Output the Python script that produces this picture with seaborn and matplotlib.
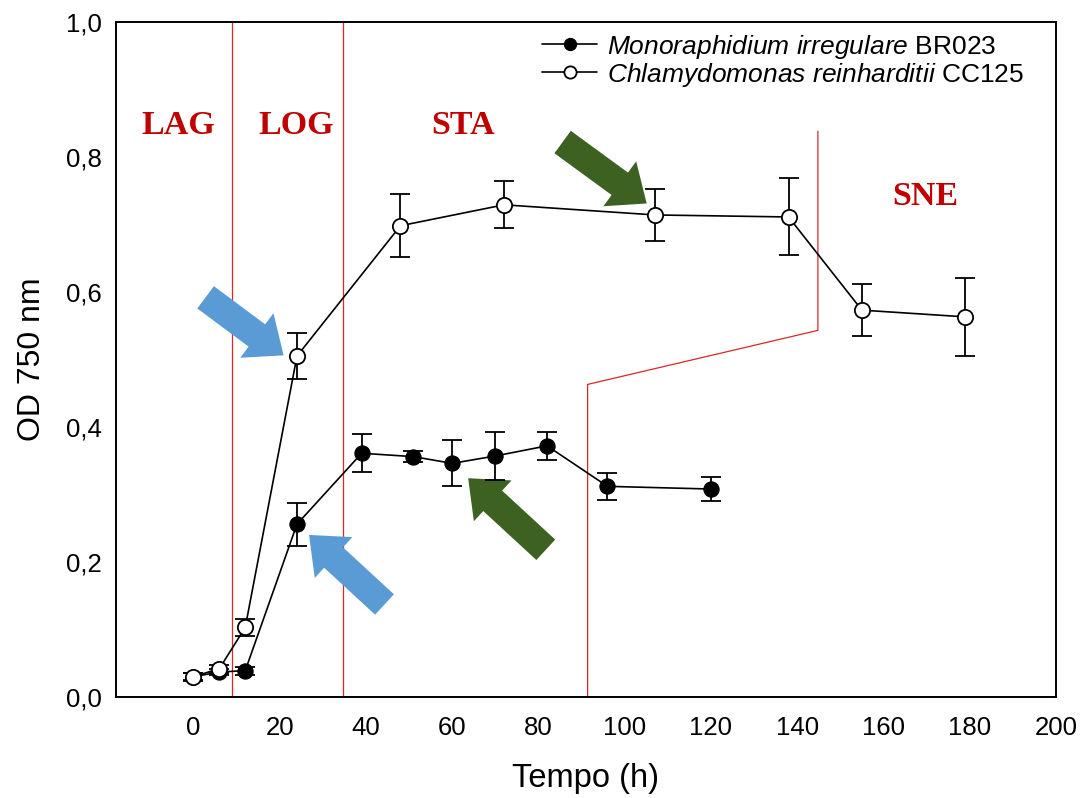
import matplotlib
matplotlib.use("Agg")
import matplotlib.pyplot as plt
import seaborn as sns
import pandas as pd
import numpy as np
from matplotlib.ticker import FuncFormatter

# ---------------- data ----------------
mono_time = [0, 6, 12, 24, 39, 51, 60, 70, 82, 96, 120]
mono_od = [0.030, 0.037, 0.039, 0.256, 0.361, 0.356, 0.346, 0.357, 0.372, 0.312, 0.308]
mono_err = [0.005, 0.005, 0.006, 0.032, 0.028, 0.008, 0.034, 0.035, 0.021, 0.020, 0.018]

chlamy_time = [0, 6, 12, 24, 48, 72, 107, 138, 155, 179]
chlamy_od = [0.030, 0.042, 0.103, 0.505, 0.698, 0.729, 0.714, 0.711, 0.573, 0.563]
chlamy_err = [0.006, 0.006, 0.012, 0.034, 0.047, 0.035, 0.039, 0.057, 0.038, 0.058]

mono_label = r"$\it{Monoraphidium\ irregulare}$ BR023"
chlamy_label = r"$\it{Chlamydomonas\ reinharditii}$ CC125"

# phase boundaries (red lines)
phase_vlines = [9, 34.6]
sne_boundary_x = [91.4, 91.4, 144.8, 144.8]
sne_boundary_y = [0.0, 0.463, 0.543, 0.838]

phase_names = ["LAG", "LOG", "STA", "SNE"]
phase_text_x = [-3.5, 23.9, 62.4, 169.6]
phase_text_y = [0.846, 0.846, 0.846, 0.742]

# arrows: (tail_x, tail_y, tip_x, tip_y, colour)
arrows = [
    (2.8, 0.592, 20.9, 0.506, "#5B9BD5"),
    (44.3, 0.137, 26.8, 0.240, "#5B9BD5"),
    (85.6, 0.822, 105.1, 0.731, "#3C6121"),
    (81.7, 0.218, 63.7, 0.324, "#3C6121"),
]

x_ticks = [0, 20, 40, 60, 80, 100, 120, 140, 160, 180, 200]
y_ticks = [0.0, 0.2, 0.4, 0.6, 0.8, 1.0]

# ---------------- style ----------------
sns.set_style("white")
plt.rcParams["font.family"] = ["Liberation Sans", "DejaVu Sans"]
plt.rcParams["mathtext.fontset"] = "custom"
plt.rcParams["mathtext.it"] = "Liberation Sans:italic"
plt.rcParams["mathtext.rm"] = "Liberation Sans"
plt.rcParams["text.color"] = "black"
plt.rcParams["axes.labelcolor"] = "black"
plt.rcParams["xtick.color"] = "black"
plt.rcParams["ytick.color"] = "black"

fig = plt.figure(figsize=(10.83, 7.98), dpi=100)
ax = fig.add_axes([0.107, 0.1266, 0.868, 0.846])

red = "#D82828"
for xv in phase_vlines:
    ax.axvline(xv, color=red, lw=0.9, zorder=1)
ax.plot(sne_boundary_x, sne_boundary_y, color=red, lw=0.9, zorder=1)

for name, tx, ty in zip(phase_names, phase_text_x, phase_text_y):
    ax.text(tx, ty, name, color="#C00000", fontsize=24.5, fontweight="bold",
            family="Liberation Serif", ha="center", va="center", zorder=2)

for (x0, y0, x1, y1, c) in arrows:
    ax.annotate("", xy=(x1, y1), xytext=(x0, y0),
                arrowprops=dict(arrowstyle="simple,head_length=0.6,head_width=1.0,tail_width=0.5",
                                mutation_scale=40, color=c, shrinkA=0, shrinkB=0, lw=0),
                zorder=2)

df_m = pd.DataFrame({"t": mono_time, "od": mono_od})
df_c = pd.DataFrame({"t": chlamy_time, "od": chlamy_od})

ax.errorbar(mono_time, mono_od, yerr=mono_err, fmt="none", ecolor="black",
            elinewidth=1.3, capsize=7.5, capthick=1.3, zorder=3)
ax.errorbar(chlamy_time, chlamy_od, yerr=chlamy_err, fmt="none", ecolor="black",
            elinewidth=1.3, capsize=7.5, capthick=1.3, zorder=3)

sns.lineplot(data=df_m, x="t", y="od", ax=ax, color="black", lw=1.2, marker="o",
             markersize=11, markerfacecolor="black", markeredgecolor="black",
             label=mono_label, zorder=4, estimator=None, sort=False)
sns.lineplot(data=df_c, x="t", y="od", ax=ax, color="black", lw=1.2, marker="o",
             markersize=11, markerfacecolor="white", markeredgecolor="black",
             markeredgewidth=1.3, label=chlamy_label, zorder=5, estimator=None, sort=False)

ax.set_xlim(-18, 200)
ax.set_ylim(0, 1.0)
ax.set_xticks(x_ticks)
ax.set_yticks(y_ticks)
ax.yaxis.set_major_formatter(FuncFormatter(lambda v, p: f"{v:.1f}".replace(".", ",")))
ax.tick_params(direction="in", length=8, width=1.3, labelsize=18.5, colors="black")
ax.tick_params(axis="x", pad=14)
ax.tick_params(axis="y", pad=10)
for s in ax.spines.values():
    s.set_visible(True)
    s.set_color("black")
    s.set_linewidth(1.4)

ax.set_xlabel("Tempo (h)", fontsize=23.5, labelpad=16)
ax.set_ylabel("OD 750 nm", fontsize=23, labelpad=14)

leg = ax.legend(loc="upper left", bbox_to_anchor=(0.5005, 0.959), bbox_transform=fig.transFigure,
                frameon=False, fontsize=19, handlelength=2.1, handletextpad=0.38,
                labelspacing=0.0, borderpad=0, markerscale=0.8, borderaxespad=0)

fig.savefig("out.png", dpi=100)
